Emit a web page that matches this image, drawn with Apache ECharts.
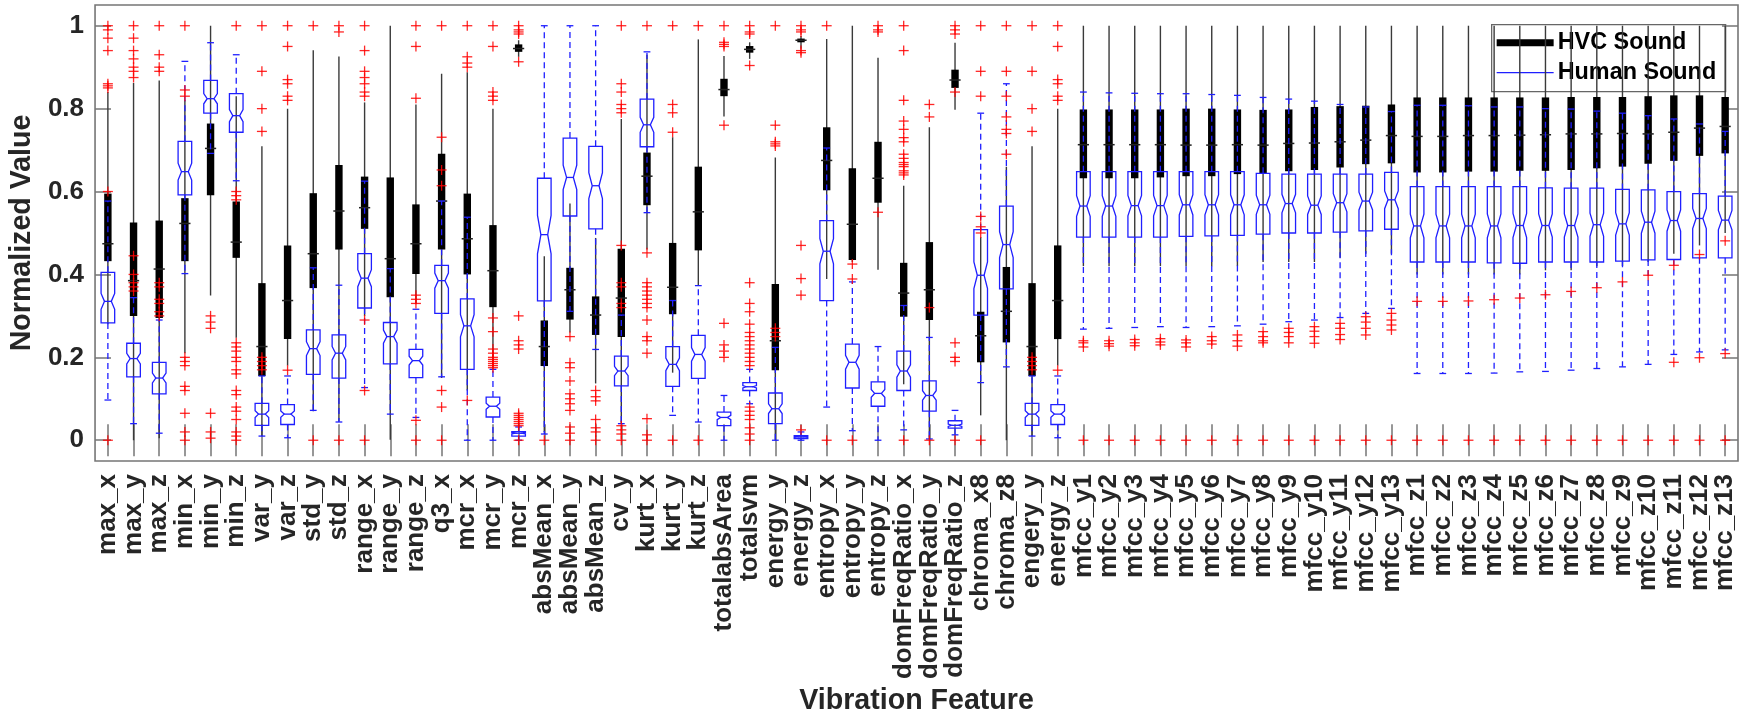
<!DOCTYPE html>
<html>
<head>
<meta charset="utf-8">
<script src="https://cdn.jsdelivr.net/npm/echarts@6.0.0/dist/echarts.min.js"></script>
<style>
  html, body { margin: 0; padding: 0; background: #fff; }
  #chart { width: 1746px; height: 721px; }
</style>
</head>
<body>
<div id="chart"></div>
<script>
// feature names on the x axis
const categories = [
  'max_x', 'max_y', 'max_z', 'min_x', 'min_y', 'min_z', 'var_y', 'var_z', 'std_y', 'std_z',
  'range_x', 'range_y', 'range_z', 'q3_x', 'mcr_x', 'mcr_y', 'mcr_z', 'absMean_x', 'absMean_y', 'absMean_z',
  'cv_y', 'kurt_x', 'kurt_y', 'kurt_z', 'totalabsArea', 'totalsvm', 'energy_y', 'energy_z',
  'entropy_x', 'entropy_y', 'entropy_z', 'domFreqRatio_x', 'domFreqRatio_y', 'domFreqRatio_z',
  'chroma_x8', 'chroma_z8', 'engery_y', 'energy_z',
  'mfcc_y1', 'mfcc_y2', 'mfcc_y3', 'mfcc_y4', 'mfcc_y5', 'mfcc_y6', 'mfcc_y7', 'mfcc_y8', 'mfcc_y9',
  'mfcc_y10', 'mfcc_y11', 'mfcc_y12', 'mfcc_y13',
  'mfcc_z1', 'mfcc_z2', 'mfcc_z3', 'mfcc_z4', 'mfcc_z5', 'mfcc_z6', 'mfcc_z7', 'mfcc_z8', 'mfcc_z9',
  'mfcc_z10', 'mfcc_z11', 'mfcc_z12', 'mfcc_z13'
];

// HVC Sound: [lower whisker, q1, median, q3, upper whisker]
const hvcStats = [
  [0.28, 0.432, 0.474, 0.595, 0.84], [0.0, 0.300, 0.385, 0.525, 0.862], [0.005, 0.295, 0.413, 0.53, 0.868],
  [0.21, 0.432, 0.523, 0.584, 0.82], [0.349, 0.591, 0.704, 0.764, 1.0], [0.247, 0.44, 0.478, 0.576, 0.83],
  [0.01, 0.155, 0.226, 0.379, 0.709], [0.18, 0.244, 0.337, 0.47, 0.8], [0.07, 0.367, 0.45, 0.596, 0.941],
  [0.045, 0.46, 0.553, 0.664, 0.926], [0.3, 0.51, 0.561, 0.636, 0.815], [0.001, 0.345, 0.438, 0.634, 1.0],
  [0.33, 0.401, 0.474, 0.569, 0.81], [0.15, 0.46, 0.577, 0.691, 0.884], [0.12, 0.4, 0.486, 0.595, 0.888],
  [0.2, 0.321, 0.409, 0.519, 0.8], [0.925, 0.937, 0.945, 0.955, 0.965], [0.02, 0.179, 0.226, 0.289, 0.444],
  [0.26, 0.291, 0.363, 0.416, 0.571], [0.137, 0.254, 0.302, 0.347, 0.488], [0.04, 0.249, 0.343, 0.462, 0.775],
  [0.46, 0.567, 0.637, 0.694, 0.93], [0.163, 0.304, 0.369, 0.476, 0.731], [0.373, 0.458, 0.551, 0.66, 0.967],
  [0.781, 0.83, 0.846, 0.872, 0.927], [0.92, 0.935, 0.943, 0.951, 0.96], [0.0, 0.169, 0.24, 0.377, 0.682],
  [0.945, 0.96, 0.965, 0.969, 0.975], [0.389, 0.603, 0.675, 0.755, 0.968], [0.43, 0.435, 0.521, 0.656, 1.0],
  [0.411, 0.573, 0.632, 0.72, 0.923], [0.135, 0.298, 0.355, 0.428, 0.614], [0.003, 0.29, 0.363, 0.478, 0.755],
  [0.797, 0.85, 0.869, 0.894, 0.959], [0.06, 0.188, 0.252, 0.31, 0.49], [0.0, 0.236, 0.311, 0.418, 0.66],
  [0.01, 0.155, 0.226, 0.379, 0.709], [0.18, 0.244, 0.337, 0.47, 0.8],
  // mfcc_y1..y13
  [0.42, 0.632, 0.713, 0.798, 1.0], [0.42, 0.632, 0.713, 0.798, 1.0], [0.42, 0.632, 0.713, 0.798, 1.0],
  [0.42, 0.634, 0.713, 0.798, 1.0], [0.42, 0.637, 0.712, 0.8, 1.0], [0.42, 0.637, 0.712, 0.8, 1.0],
  [0.42, 0.642, 0.713, 0.798, 1.0], [0.43, 0.644, 0.712, 0.797, 1.0], [0.43, 0.649, 0.716, 0.798, 1.0],
  [0.43, 0.652, 0.717, 0.804, 1.0], [0.44, 0.658, 0.72, 0.806, 1.0], [0.45, 0.666, 0.724, 0.807, 1.0],
  [0.45, 0.668, 0.735, 0.81, 1.0],
  // mfcc_z1..z13
  [0.4, 0.646, 0.733, 0.827, 1.0], [0.4, 0.646, 0.733, 0.827, 1.0], [0.4, 0.648, 0.735, 0.827, 1.0],
  [0.4, 0.648, 0.735, 0.827, 1.0], [0.4, 0.65, 0.736, 0.827, 1.0], [0.41, 0.65, 0.737, 0.827, 1.0],
  [0.41, 0.652, 0.739, 0.828, 1.0], [0.42, 0.656, 0.739, 0.828, 1.0], [0.42, 0.66, 0.74, 0.828, 1.0],
  [0.43, 0.667, 0.739, 0.83, 1.0], [0.45, 0.674, 0.743, 0.832, 1.0], [0.47, 0.686, 0.753, 0.832, 1.0],
  [0.5, 0.692, 0.757, 0.828, 1.0]
];

// Human Sound: [lower whisker, q1, median, q3, upper whisker]
const humanStats = [
  [0.097, 0.283, 0.335, 0.405, 0.577], [0.04, 0.153, 0.197, 0.234, 0.344], [0.017, 0.112, 0.15, 0.188, 0.29],
  [0.402, 0.592, 0.648, 0.721, 0.914], [0.692, 0.789, 0.824, 0.868, 0.959], [0.626, 0.743, 0.783, 0.836, 0.93],
  [0.01, 0.036, 0.063, 0.089, 0.155], [0.006, 0.038, 0.063, 0.086, 0.155], [0.072, 0.159, 0.221, 0.266, 0.416],
  [0.044, 0.15, 0.21, 0.254, 0.374], [0.127, 0.319, 0.391, 0.45, 0.625], [0.063, 0.184, 0.25, 0.284, 0.414],
  [0.055, 0.151, 0.192, 0.219, 0.316], [0.153, 0.306, 0.385, 0.422, 0.577], [0.0, 0.171, 0.276, 0.341, 0.538],
  [0.0, 0.056, 0.082, 0.104, 0.171], [0.0, 0.01, 0.017, 0.021, 0.032], [0.015, 0.336, 0.496, 0.632, 1.0],
  [0.311, 0.541, 0.634, 0.729, 1.0], [0.219, 0.51, 0.614, 0.709, 1.0], [0.04, 0.131, 0.167, 0.203, 0.302],
  [0.549, 0.708, 0.761, 0.823, 0.937], [0.06, 0.13, 0.183, 0.226, 0.337], [0.044, 0.149, 0.207, 0.253, 0.373],
  [0.0, 0.035, 0.055, 0.068, 0.108], [0.088, 0.12, 0.129, 0.139, 0.171], [0.0, 0.04, 0.076, 0.114, 0.224],
  [0.0, 0.004, 0.008, 0.011, 0.02], [0.08, 0.337, 0.456, 0.53, 0.705], [0.023, 0.126, 0.188, 0.232, 0.382],
  [0.0, 0.082, 0.113, 0.141, 0.226], [0.025, 0.12, 0.167, 0.215, 0.325], [0.003, 0.07, 0.108, 0.143, 0.248],
  [0.013, 0.029, 0.036, 0.047, 0.072], [0.139, 0.302, 0.398, 0.508, 0.789], [0.177, 0.365, 0.472, 0.565, 0.86],
  [0.01, 0.036, 0.063, 0.089, 0.155], [0.006, 0.038, 0.063, 0.086, 0.155],
  // mfcc_y1..y13
  [0.268, 0.49, 0.565, 0.648, 0.84], [0.27, 0.49, 0.565, 0.648, 0.838], [0.272, 0.49, 0.566, 0.648, 0.837],
  [0.274, 0.49, 0.566, 0.648, 0.836], [0.272, 0.492, 0.568, 0.648, 0.836], [0.274, 0.493, 0.568, 0.648, 0.834],
  [0.276, 0.494, 0.568, 0.648, 0.832], [0.28, 0.497, 0.568, 0.644, 0.827], [0.286, 0.5, 0.571, 0.642, 0.823],
  [0.29, 0.5, 0.567, 0.642, 0.818], [0.296, 0.502, 0.573, 0.642, 0.81], [0.306, 0.505, 0.577, 0.642, 0.804],
  [0.318, 0.509, 0.58, 0.646, 0.793],
  // mfcc_z1..z13
  [0.161, 0.43, 0.517, 0.612, 0.808], [0.161, 0.43, 0.517, 0.612, 0.808], [0.161, 0.43, 0.517, 0.612, 0.807],
  [0.162, 0.428, 0.517, 0.612, 0.804], [0.165, 0.427, 0.518, 0.612, 0.804], [0.166, 0.43, 0.518, 0.609, 0.8],
  [0.169, 0.43, 0.518, 0.608, 0.799], [0.173, 0.43, 0.52, 0.608, 0.794], [0.177, 0.432, 0.522, 0.605, 0.789],
  [0.183, 0.435, 0.526, 0.604, 0.783], [0.207, 0.436, 0.53, 0.6, 0.775], [0.213, 0.44, 0.535, 0.595, 0.763],
  [0.218, 0.44, 0.531, 0.589, 0.745]
];

// outliers (red +) per feature
const hvcOutliers = [
  [0.85, 0.855, 0.86, 0.94, 0.97, 0.99, 1.0], [0.875, 0.89, 0.9, 0.92, 0.94, 0.97, 1.0], [0.89, 0.9, 0.93, 1.0],
  [0.83, 0.845, 1.0, 0.2, 0.19, 0.18, 0.13, 0.12, 0.065, 0.02, 0.0], [0.3, 0.285, 0.27, 0.065, 0.02, 0.005],
  [1.0, 0.235, 0.225, 0.215, 0.2, 0.19, 0.17, 0.16, 0.12, 0.11, 0.08, 0.07, 0.05, 0.02, 0.01, 0.0],
  [0.745, 0.8, 0.89, 1.0], [0.82, 0.83, 0.86, 0.87, 0.95, 1.0, 0.169], [1.0], [0.985, 1.0],
  [0.83, 0.84, 0.86, 0.875, 0.89, 0.94, 1.0], [], [0.825, 0.95, 1.0], [1.0], [0.9, 0.91, 0.925, 1.0, 0.096],
  [0.82, 0.83, 0.84, 0.95, 1.0], [1.0, 0.99, 0.985, 0.98, 0.913, 0.3, 0.24, 0.23, 0.22, 0.0], [0.0],
  [0.25, 0.187, 0.175, 0.143, 0.112, 0.1, 0.088, 0.072, 0.032, 0.017, 0.0], [0.12, 0.105, 0.095, 0.05, 0.03, 0.02, 0.0],
  [0.79, 0.8, 0.81, 0.84, 0.86, 1.0],
  [1.0, 0.452, 0.38, 0.37, 0.36, 0.35, 0.34, 0.33, 0.32, 0.29, 0.25, 0.24, 0.21, 0.052, 0.013, 0.0],
  [0.743, 0.79, 0.81, 1.0, 0.0], [1.0, 0.0], [1.0, 0.96, 0.955, 0.95, 0.76], [1.0, 0.985, 0.98, 0.904],
  [0.71, 0.715, 0.72, 0.76, 1.0], [1.0, 0.99, 0.985, 0.94, 0.935], [1.0, 0.0], [0.425, 0.389, 0.0],
  [1.0, 0.99, 0.985, 0.55],
  [0.64, 0.645, 0.65, 0.66, 0.665, 0.67, 0.68, 0.69, 0.72, 0.73, 0.75, 0.77, 0.82, 0.94, 1.0],
  [0.78, 0.81], [1.0, 0.99, 0.98, 0.84], [0.5, 0.515, 0.54, 0.0], [0.69, 0.74, 0.75, 0.78, 0.83],
  [0.745, 0.8, 0.89, 1.0], [0.82, 0.83, 0.86, 0.87, 0.95, 1.0, 0.169],
  [0.0], [0.0], [0.0], [0.0], [0.0], [0.0], [0.0], [0.0], [0.0], [0.0], [0.0], [0.0], [0.0],
  [0.335, 0.0], [0.335, 0.0], [0.336, 0.0], [0.339, 0.0], [0.343, 0.0], [0.351, 0.0], [0.359, 0.0],
  [0.368, 0.0], [0.382, 0.0], [0.398, 0.0], [0.422, 0.0], [0.448, 0.0], [0.481, 0.0]
];
const humanOutliers = [
  [0.6, 0.0], [0.36, 0.37, 0.38, 0.4, 0.445], [0.3, 0.31, 0.33, 0.34, 0.37, 0.38], [], [], [0.6, 0.59, 0.58],
  [0.17, 0.18, 0.19, 0.2], [], [0.0], [0.0], [0.29, 0.12, 0.0], [], [0.33, 0.34, 0.35, 0.048, 0.0],
  [0.614, 0.652, 0.731, 0.12, 0.08, 0.0], [],
  [0.295, 0.262, 0.22, 0.21, 0.2, 0.195, 0.19, 0.185, 0.18, 0.175],
  [0.035, 0.04, 0.045, 0.05, 0.055, 0.06, 0.065], [], [], [],
  [0.47, 0.38, 0.37, 0.33, 0.32, 0.035, 0.025, 0.015, 0.0], [], [], [], [0.282, 0.23, 0.215, 0.2],
  [0.38, 0.33, 0.31, 0.28, 0.26, 0.25, 0.24, 0.23, 0.22, 0.21, 0.2, 0.19, 0.18, 0.08, 0.07, 0.06, 0.05, 0.03, 0.015, 0.0],
  [0.27, 0.26, 0.25], [0.47, 0.39, 0.35, 0.025], [], [], [], [0.0], [0.32, 0.0], [0.235, 0.2, 0.19, 0.0],
  [0.83, 0.89, 1.0], [0.89, 1.0], [0.17, 0.18, 0.19, 0.2], [],
  [0.24, 0.235, 0.225], [0.24, 0.233, 0.227], [0.243, 0.235, 0.228], [0.245, 0.237, 0.23], [0.242, 0.235, 0.225],
  [0.25, 0.24, 0.232], [0.254, 0.24, 0.227], [0.262, 0.25, 0.24, 0.235], [0.27, 0.26, 0.25, 0.235],
  [0.274, 0.263, 0.25, 0.234], [0.282, 0.27, 0.255, 0.243], [0.298, 0.285, 0.27, 0.254], [0.306, 0.29, 0.278, 0.266],
  [], [], [], [], [], [], [], [], [], [], [0.188], [0.199], [0.209]
];

const yTicks = [0, 0.2, 0.4, 0.6, 0.8, 1];
const sampleCount = 100; // used for the notch (MATLAB: 1.57*IQR/sqrt(n))

const FONT = "'Liberation Sans', Arial, Helvetica, sans-serif";
const TEXT = '#262626';
const FRAME = '#767676';

const chart = echarts.init(document.getElementById('chart'), null, { renderer: 'canvas' });

const hvcData = hvcStats.map((s, i) => [i, ...s]);
const humanData = humanStats.map((s, i) => [i, ...s]);
const outlierData = [];
hvcOutliers.forEach((arr, i) => arr.forEach(v => outlierData.push([i, v])));
humanOutliers.forEach((arr, i) => arr.forEach(v => outlierData.push([i, v])));

// compact black box: thin whisker, thick IQR bar, median tick
function renderHvc(params, api) {
    const i = api.value(0);
    const x = api.coord([i, 0])[0];
    const y = v => api.coord([i, v])[1];
    const lo = y(api.value(1)), q1 = y(api.value(2)), md = y(api.value(3));
    const q3 = y(api.value(4)), hi = y(api.value(5));
    return {
        type: 'group',
        children: [
            { type: 'line', shape: { x1: x, y1: hi, x2: x, y2: lo }, style: { stroke: '#3a3a3a', lineWidth: 1.4 } },
            { type: 'rect', shape: { x: x - 3.7, y: q3, width: 7.4, height: q1 - q3 }, style: { fill: '#000' } },
            { type: 'line', shape: { x1: x - 5.6, y1: md, x2: x + 5.6, y2: md }, style: { stroke: '#222', lineWidth: 1.5 } }
        ]
    };
}

// notched blue box with dashed whiskers
function renderHuman(params, api) {
    const i = api.value(0);
    const x = api.coord([i, 0])[0];
    const y = v => api.coord([i, v])[1];
    const vLo = api.value(1), vQ1 = api.value(2), vMd = api.value(3), vQ3 = api.value(4), vHi = api.value(5);
    const nh = 1.57 * (vQ3 - vQ1) / Math.sqrt(sampleCount);
    const lo = y(vLo), q1 = y(vQ1), md = y(vMd), q3 = y(vQ3), hi = y(vHi);
    const nLo = y(Math.max(vQ1, vMd - nh)), nHi = y(Math.min(vQ3, vMd + nh));
    const w = 6.8, wi = 3.4, cap = 3.4;
    const blue = '#1f1fff';
    const dash = { stroke: blue, lineWidth: 1.3, lineDash: [6, 4] };
    const solid = { stroke: blue, lineWidth: 1.3 };
    return {
        type: 'group',
        children: [
            { type: 'line', shape: { x1: x, y1: q3, x2: x, y2: hi }, style: dash },
            { type: 'line', shape: { x1: x, y1: q1, x2: x, y2: lo }, style: dash },
            { type: 'line', shape: { x1: x - cap, y1: hi, x2: x + cap, y2: hi }, style: solid },
            { type: 'line', shape: { x1: x - cap, y1: lo, x2: x + cap, y2: lo }, style: solid },
            {
                type: 'polygon',
                shape: {
                    points: [
                        [x - w, q1], [x + w, q1], [x + w, nLo], [x + wi, md], [x + w, nHi], [x + w, q3],
                        [x - w, q3], [x - w, nHi], [x - wi, md], [x - w, nLo]
                    ]
                },
                style: { fill: 'none', stroke: blue, lineWidth: 1.3 }
            },
            { type: 'line', shape: { x1: x - wi, y1: md, x2: x + wi, y2: md }, style: solid }
        ]
    };
}

function renderPlus(params, api) {
    const p = api.coord([api.value(0), api.value(1)]);
    const r = 5;
    const st = { stroke: 'rgba(255,0,0,0.85)', lineWidth: 1.3 };
    return {
        type: 'group',
        children: [
            { type: 'line', shape: { x1: p[0] - r, y1: p[1], x2: p[0] + r, y2: p[1] }, style: st },
            { type: 'line', shape: { x1: p[0], y1: p[1] - r, x2: p[0], y2: p[1] + r }, style: st }
        ]
    };
}

const tickStyle = { show: true, inside: true, length: 16, lineStyle: { color: FRAME, width: 1.5 } };

const option = {
    backgroundColor: '#fff',
    animation: false,
    grid: {
        left: 91, right: 8, top: 5, bottom: 253,
        show: true, borderColor: FRAME, borderWidth: 1.6, backgroundColor: 'transparent'
    },
    xAxis: [
        {
            type: 'category',
            data: categories,
            boundaryGap: true,
            position: 'bottom',
            axisLine: { show: false },
            axisTick: { ...tickStyle, alignWithLabel: true, interval: 0 },
            axisLabel: {
                interval: 0, rotate: 90, margin: 13,
                color: TEXT, fontFamily: FONT, fontWeight: 'bold', fontSize: 26
            },
            splitLine: { show: false },
            name: 'Vibration Feature',
            nameLocation: 'middle',
            nameGap: 222,
            nameTextStyle: { color: TEXT, fontFamily: FONT, fontWeight: 'bold', fontSize: 28.6 }
        },
        {
            type: 'category',
            data: categories,
            boundaryGap: true,
            position: 'top',
            axisLine: { show: false },
            axisTick: { ...tickStyle, alignWithLabel: true, interval: 0 },
            axisLabel: { show: false },
            splitLine: { show: false }
        }
    ],
    yAxis: [
        {
            type: 'value',
            min: -0.05, max: 1.05,
            position: 'left',
            axisLine: { show: false },
            axisTick: { ...tickStyle, customValues: yTicks },
            axisLabel: {
                customValues: yTicks, margin: 11,
                color: TEXT, fontFamily: FONT, fontWeight: 'bold', fontSize: 26
            },
            splitLine: { show: false },
            name: 'Normalized Value',
            nameLocation: 'middle',
            nameRotate: 90,
            nameGap: 55,
            nameTextStyle: { color: TEXT, fontFamily: FONT, fontWeight: 'bold', fontSize: 28.6 }
        },
        {
            type: 'value',
            min: -0.05, max: 1.05,
            position: 'right',
            axisLine: { show: false },
            axisTick: { ...tickStyle, customValues: yTicks },
            axisLabel: { show: false, customValues: yTicks },
            splitLine: { show: false }
        }
    ],
    series: [
        {
            name: 'HVC Sound', type: 'custom', renderItem: renderHvc,
            data: hvcData, encode: { x: 0, y: [1, 2, 3, 4, 5] }, z: 2
        },
        {
            name: 'Human Sound', type: 'custom', renderItem: renderHuman,
            data: humanData, encode: { x: 0, y: [1, 2, 3, 4, 5] }, z: 3
        },
        {
            name: 'Outliers', type: 'custom', renderItem: renderPlus,
            data: outlierData, encode: { x: 0, y: 1 }, z: 4
        }
    ],
    // legend box in the top right corner
    graphic: [
        {
            type: 'group', left: 1491, top: 24, z: 100,
            children: [
                { type: 'rect', shape: { x: 0, y: 0, width: 234, height: 67 }, style: { fill: '#fff', stroke: '#666', lineWidth: 1.3 } },
                { type: 'line', shape: { x1: 5, y1: 18, x2: 62, y2: 18 }, style: { stroke: '#000', lineWidth: 7 } },
                { type: 'text', x: 66, y: 18, style: { text: 'HVC Sound', fill: '#000', font: "bold 23.4px 'Liberation Sans', Arial, sans-serif", verticalAlign: 'middle' } },
                { type: 'line', shape: { x1: 5, y1: 48, x2: 62, y2: 48 }, style: { stroke: '#1f1fff', lineWidth: 1.3 } },
                { type: 'text', x: 66, y: 48, style: { text: 'Human Sound', fill: '#000', font: "bold 23.4px 'Liberation Sans', Arial, sans-serif", verticalAlign: 'middle' } }
            ]
        }
    ]
};

chart.setOption(option);
</script>
</body>
</html>
